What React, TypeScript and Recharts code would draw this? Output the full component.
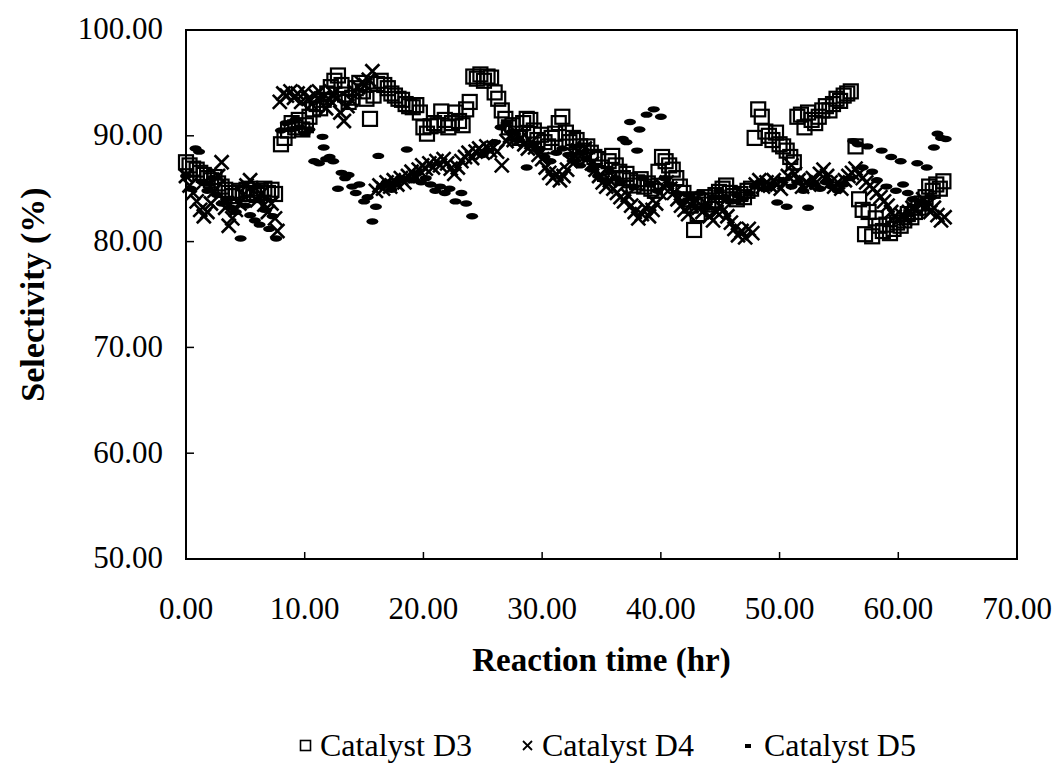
import { Label, Legend, ReferenceArea, Scatter, ScatterChart, XAxis, YAxis } from "recharts";

// [reaction time (hr), selectivity (%)]
const catalystD3: [number, number][] = [
  [0, 87.5], [0.3, 87.2], [0.6, 86.9], [0.9, 86.8], [1.2, 86.5], [1.5, 86.3], [1.8, 86.0], [2.1, 85.8],
  [2.4, 86.1], [2.7, 85.5], [3.0, 85.2], [3.3, 84.9], [3.6, 84.6], [3.9, 84.3], [4.2, 84.6], [4.5, 84.8],
  [4.8, 84.5], [5.1, 84.9], [5.4, 85.0], [5.7, 84.6], [6.0, 84.4], [6.3, 84.8], [6.6, 85.0], [6.9, 84.6],
  [7.2, 84.9], [7.5, 84.5],
  [8.0, 89.2], [8.3, 89.8], [8.6, 90.5], [8.9, 91.2], [9.2, 90.8], [9.5, 91.5], [9.8, 90.6], [10.1, 91.0],
  [10.4, 91.8], [10.7, 92.5], [11.0, 93.0], [11.3, 92.6], [11.6, 93.4], [11.9, 94.0], [12.2, 94.6], [12.5, 95.2],
  [12.8, 95.7], [13.1, 94.8], [13.4, 93.9], [13.7, 93.2], [14.0, 93.6], [14.3, 94.5], [14.6, 95.0], [14.9, 94.2],
  [15.2, 93.5], [15.5, 91.6], [15.8, 93.8], [16.1, 94.9], [16.4, 95.2], [16.7, 94.8], [17.0, 94.5], [17.3, 94.0],
  [17.6, 93.8], [17.9, 93.5], [18.2, 93.4], [18.5, 93.0], [18.8, 92.8], [19.1, 92.7], [19.4, 92.9], [19.7, 92.2],
  [20.0, 90.8], [20.3, 90.2], [20.6, 90.9], [20.9, 91.2], [21.2, 91.0], [21.5, 92.3], [21.8, 91.5], [22.1, 90.8],
  [22.4, 91.2], [22.7, 92.2], [23.0, 91.4], [23.3, 91.0], [23.6, 92.5], [23.9, 93.2], [24.2, 95.6], [24.5, 95.4],
  [24.8, 95.8], [25.1, 95.2], [25.4, 95.6], [25.7, 95.5], [26.0, 94.1], [26.3, 93.5], [26.6, 92.4], [26.9, 91.6],
  [27.2, 90.8], [27.5, 91.0], [27.8, 90.2], [28.1, 89.8], [28.4, 91.2], [28.7, 91.6], [29.0, 91.5], [29.3, 90.5],
  [29.6, 89.6], [29.9, 90.1], [30.2, 89.4], [30.5, 89.0], [30.8, 89.8], [31.1, 90.2], [31.4, 91.2], [31.7, 91.8],
  [32.0, 90.3], [32.3, 89.4], [32.6, 89.8], [32.9, 89.6], [33.2, 89.0], [33.5, 88.6], [33.8, 89.0], [34.1, 88.4],
  [34.4, 88.0], [34.7, 87.8], [35.0, 87.0], [35.3, 86.4], [35.6, 87.6], [35.9, 88.1], [36.2, 87.2], [36.5, 86.6],
  [36.8, 86.0], [37.1, 86.4], [37.4, 85.8], [37.7, 85.3], [38.0, 85.6], [38.3, 85.9], [38.6, 85.2], [38.9, 85.5],
  [39.2, 85.0], [39.5, 84.8], [39.8, 86.6], [40.1, 88.0], [40.4, 87.6], [40.7, 87.2], [41.0, 86.8], [41.3, 86.0],
  [41.6, 85.2], [41.9, 84.6], [42.2, 84.0], [42.5, 83.4], [42.8, 81.1], [43.1, 82.6], [43.4, 83.8], [43.7, 84.2],
  [44.0, 83.5], [44.3, 83.9], [44.6, 84.4], [44.9, 84.7], [45.2, 85.0], [45.5, 85.3], [45.8, 84.6], [46.1, 84.3],
  [46.4, 84.0], [46.7, 84.5], [47.0, 84.2], [47.3, 84.8], [47.6, 85.0], [47.9, 89.8], [48.2, 92.5], [48.5, 91.8],
  [48.8, 90.4], [49.1, 90.0], [49.4, 89.6], [49.7, 90.3], [50.0, 89.2], [50.3, 89.0], [50.6, 88.6], [50.9, 88.0],
  [51.2, 87.5], [51.5, 91.8], [51.8, 92.0], [52.1, 90.8], [52.4, 92.2], [52.7, 91.5], [53.0, 91.2], [53.3, 91.8],
  [53.6, 92.4], [53.9, 92.8], [54.2, 92.4], [54.5, 93.0], [54.8, 93.5], [55.1, 93.3], [55.4, 93.8], [55.7, 94.0],
  [56.0, 94.2], [56.4, 89.0], [56.7, 84.0], [57.0, 83.0], [57.2, 80.7], [57.5, 82.8], [57.8, 80.5], [58.1, 82.2],
  [58.4, 81.5], [58.7, 81.0], [59.0, 81.6], [59.3, 80.8], [59.6, 81.2], [59.9, 81.8], [60.2, 81.5], [60.5, 82.0],
  [60.8, 82.6], [61.1, 82.3], [61.4, 82.8], [61.7, 83.2], [62.0, 83.6], [62.3, 84.2], [62.6, 85.2], [62.9, 84.8],
  [63.2, 85.4], [63.5, 85.0], [63.8, 85.7],
];

const catalystD4: [number, number][] = [
  [0, 86.2], [0.3, 85.3], [0.6, 84.6], [0.9, 83.8], [1.2, 83.0], [1.5, 82.4], [1.8, 82.8], [2.1, 83.6],
  [2.4, 84.8], [2.7, 86.2], [3.0, 87.5], [3.3, 83.2], [3.6, 81.5], [3.9, 82.2], [4.2, 83.0], [4.5, 83.6],
  [4.8, 84.4], [5.1, 85.3], [5.4, 85.8], [5.7, 84.8], [6.0, 83.9], [6.3, 84.5], [6.6, 83.5], [6.9, 82.8],
  [7.2, 83.6], [7.5, 82.2], [7.7, 81.0],
  [7.9, 93.2], [8.2, 94.0], [8.5, 93.8], [8.8, 94.2], [9.1, 93.6], [9.4, 94.0], [9.7, 93.2], [10.0, 94.1],
  [10.3, 93.5], [10.6, 93.0], [10.9, 93.8], [11.2, 94.2], [11.5, 93.6], [11.8, 92.6], [12.1, 93.4], [12.4, 94.0],
  [12.7, 93.5], [13.0, 92.2], [13.3, 91.4], [13.6, 92.8], [13.9, 93.4], [14.2, 94.2], [14.5, 94.6], [14.8, 95.0],
  [15.1, 94.8], [15.4, 95.3], [15.7, 96.1],
  [16.0, 84.8], [16.3, 85.3], [16.6, 85.0], [16.9, 85.6], [17.2, 85.2], [17.5, 85.8], [17.8, 85.4], [18.1, 86.0],
  [18.4, 85.6], [18.7, 86.2], [19.0, 86.6], [19.3, 86.2], [19.6, 86.8], [19.9, 87.2], [20.2, 86.9], [20.5, 87.4],
  [20.8, 87.0], [21.1, 87.6], [21.4, 87.2], [21.7, 87.8], [22.0, 87.4], [22.3, 86.9], [22.6, 86.4], [22.9, 87.0],
  [23.2, 87.6], [23.5, 88.0], [23.8, 88.4], [24.1, 87.9], [24.4, 88.5], [24.7, 88.8], [25.0, 88.4], [25.3, 89.0],
  [25.6, 88.6], [25.9, 88.9], [26.2, 88.5], [26.6, 87.2], [27.0, 89.5], [27.3, 90.0], [27.6, 89.6], [27.9, 90.2],
  [28.2, 89.8], [28.5, 89.2], [28.8, 88.8], [29.1, 89.4], [29.4, 88.9], [29.7, 88.2], [30.0, 87.8], [30.3, 87.0],
  [30.6, 86.5], [30.9, 86.0], [31.2, 86.4], [31.5, 85.8], [31.8, 86.2], [32.1, 86.8], [32.4, 87.6], [32.7, 88.2],
  [33.0, 88.6], [33.3, 88.2], [33.6, 88.8], [33.9, 88.0], [34.2, 87.4], [34.5, 86.8], [34.8, 86.2], [35.1, 85.6],
  [35.4, 85.2], [35.7, 85.8], [36.0, 85.0], [36.3, 84.6], [36.6, 84.2], [36.9, 83.8], [37.2, 84.4], [37.5, 83.4],
  [37.8, 82.8], [38.1, 82.2], [38.4, 82.6], [38.7, 83.2], [39.0, 82.4], [39.3, 83.0], [39.6, 83.6], [39.9, 84.6],
  [40.2, 85.2], [40.5, 85.6], [40.8, 85.0], [41.1, 84.6], [41.4, 84.0], [41.7, 83.4], [42.0, 83.0], [42.3, 82.6],
  [42.6, 83.4], [42.9, 84.0], [43.2, 83.2], [43.5, 82.8], [43.8, 83.6], [44.1, 82.4], [44.4, 82.0], [44.7, 82.8],
  [45.0, 83.4], [45.3, 83.0], [45.6, 82.4], [45.9, 81.8], [46.2, 81.2], [46.5, 80.6], [46.8, 81.0], [47.1, 80.4],
  [47.4, 81.2], [47.7, 80.8], [48.0, 85.4], [48.3, 85.8], [48.6, 85.2], [48.9, 85.6], [49.2, 85.3], [49.5, 85.8],
  [49.8, 85.4], [50.1, 85.0], [50.4, 85.6], [50.7, 86.2], [51.0, 87.2], [51.3, 86.4], [51.6, 85.8], [51.9, 85.2],
  [52.2, 85.6], [52.5, 85.4], [52.8, 86.0], [53.1, 85.6], [53.4, 86.4], [53.7, 86.8], [54.0, 86.2], [54.3, 85.6],
  [54.6, 85.2], [54.9, 85.6], [55.2, 85.0], [55.5, 85.8], [55.8, 86.2], [56.1, 86.5], [56.4, 86.9], [56.7, 86.4],
  [57.0, 86.0], [57.3, 85.6], [57.6, 85.3], [57.9, 85.0], [58.2, 84.6], [58.5, 84.2], [58.8, 83.8], [59.1, 83.4],
  [59.4, 82.8], [59.7, 82.4], [60.0, 82.0], [60.3, 82.5], [60.6, 82.2], [60.9, 82.8], [61.2, 83.2], [61.5, 83.0],
  [61.8, 83.6], [62.1, 84.0], [62.4, 83.4], [62.7, 82.8], [63.0, 83.2], [63.3, 82.5], [63.6, 82.0], [63.9, 82.3],
];

const catalystD5: [number, number][] = [
  [0, 86.2], [0.4, 85.0], [0.8, 88.8], [1.1, 88.5], [1.4, 85.6], [1.8, 84.8], [2.2, 86.0], [2.6, 84.4],
  [3.0, 83.6], [3.4, 84.0], [3.8, 83.2], [4.2, 82.8], [4.6, 80.3], [5.0, 83.4], [5.4, 82.5], [5.8, 82.0],
  [6.2, 81.6], [6.6, 83.0], [7.0, 81.2], [7.3, 82.4], [7.6, 80.3],
  [8.0, 90.5], [8.4, 91.2], [8.8, 90.6], [9.2, 91.5], [9.6, 90.8], [10.0, 90.2], [10.4, 90.6], [10.8, 87.6],
  [11.2, 87.4], [11.5, 89.9], [11.6, 88.9], [11.8, 87.8], [12.1, 88.0], [12.4, 87.6], [12.8, 85.0], [13.1, 86.5],
  [13.4, 86.0], [13.7, 86.3], [14.0, 85.2], [14.3, 84.6], [14.6, 85.4], [15.0, 83.8], [15.3, 84.2], [15.7, 81.9],
  [16.0, 83.3], [16.2, 88.1],
  [16.5, 85.2], [16.9, 85.6], [17.3, 84.9], [17.7, 85.4], [18.1, 86.0], [18.6, 88.7], [19.0, 85.8], [19.4, 86.4],
  [19.8, 85.6], [20.2, 86.0], [20.6, 85.4], [21.0, 84.8], [21.4, 85.2], [21.8, 84.6], [22.2, 85.0], [22.7, 83.8],
  [23.2, 84.6], [23.6, 83.6], [24.1, 82.4],
  [25.0, 88.2], [25.5, 88.6], [26.0, 89.4], [26.5, 90.8], [27.0, 91.2], [27.5, 90.4], [28.0, 89.6], [28.7, 87.0],
  [29.2, 89.2], [29.7, 88.6], [30.2, 88.0], [30.7, 87.6], [31.2, 88.4], [31.7, 88.8], [32.2, 88.2], [32.7, 87.6],
  [33.2, 87.2], [33.7, 87.8], [34.2, 86.8], [34.7, 86.2], [35.2, 85.8], [35.7, 86.6], [36.2, 86.0], [36.6, 85.6],
  [36.8, 89.7], [37.1, 89.4], [37.4, 91.3], [37.7, 85.2], [38.0, 88.6], [38.2, 90.6], [38.5, 86.0], [38.8, 92.0],
  [39.1, 85.4], [39.4, 92.5], [39.7, 84.8], [40.0, 91.8], [40.3, 86.0], [40.8, 85.4], [41.3, 84.6], [41.8, 83.7],
  [42.3, 84.4], [42.8, 84.0], [43.3, 84.6], [43.9, 83.2], [44.4, 84.2], [44.9, 84.8], [45.4, 84.2], [45.9, 83.8],
  [46.4, 84.4], [46.9, 84.0], [47.4, 84.6], [47.9, 85.2], [48.4, 85.6], [48.9, 85.0], [49.4, 85.4], [49.8, 83.7],
  [50.2, 85.8], [50.6, 83.3], [51.0, 85.2], [51.5, 85.6], [52.0, 84.8], [52.4, 83.2], [52.9, 85.4], [53.4, 85.0],
  [53.9, 85.6], [54.4, 85.2], [54.9, 84.8], [55.4, 85.4], [55.9, 86.0], [56.2, 89.5], [56.6, 89.2], [57.0, 87.0],
  [57.4, 89.0], [57.8, 86.6], [58.2, 85.8], [58.6, 88.6], [59.0, 85.2], [59.4, 88.0], [59.8, 84.8], [60.2, 87.6],
  [60.4, 85.4], [60.8, 84.6], [61.2, 84.0], [61.6, 87.4], [62.0, 83.8], [62.4, 87.0], [62.8, 84.2], [63.0, 88.9],
  [63.3, 90.2], [63.6, 89.8], [64.0, 89.7],
];

const timeTicks = [0, 10, 20, 30, 40, 50, 60, 70];
const selectivityTicks = [50, 60, 70, 80, 90, 100];
const seriesNames = ["Catalyst D3", "Catalyst D4", "Catalyst D5"];

const FONT = "Liberation Serif";

const toPoints = (rows: [number, number][]) => rows.map(([hr, sel]) => ({ hr, sel }));

const OpenSquare = ({ cx, cy }: any) => (
  <rect x={cx - 7} y={cy - 7} width={14} height={14} fill="none" stroke="#000" strokeWidth={2.2} />
);

const Cross = ({ cx, cy }: any) => (
  <g stroke="#000" strokeWidth={2.6}>
    <line x1={cx - 7} y1={cy - 7} x2={cx + 7} y2={cy + 7} />
    <line x1={cx - 7} y1={cy + 7} x2={cx + 7} y2={cy - 7} />
  </g>
);

const Dash = ({ cx, cy }: any) => <ellipse cx={cx} cy={cy} rx={6} ry={3.2} fill="#000" />;

const XTick = ({ x, y, payload }: any) => (
  <g>
    <line x1={x} x2={x} y1={y - 38} y2={y - 45} stroke="#000" strokeWidth={1.5} />
    <text x={x} y={y} dy="0.7em" textAnchor="middle" style={{ fontFamily: FONT, fontSize: 31 }} fill="#000">
      {Number(payload.value).toFixed(2)}
    </text>
  </g>
);

const YTick = ({ x, y, payload }: any) => (
  <g>
    <line x1={x + 23} x2={x + 31} y1={y} y2={y} stroke="#000" strokeWidth={1.5} />
    <text x={x} y={y} dy="0.3em" textAnchor="end" style={{ fontFamily: FONT, fontSize: 31 }} fill="#000">
      {Number(payload.value).toFixed(2)}
    </text>
  </g>
);

const legendIcons = [
  <svg width={16} height={16} key="d3">
    <rect x={2.5} y={3.5} width={10} height={10} fill="none" stroke="#000" strokeWidth={1.6} />
  </svg>,
  <svg width={16} height={16} key="d4">
    <g stroke="#000" strokeWidth={1.8}>
      <line x1={3} y1={4} x2={12} y2={13} />
      <line x1={3} y1={13} x2={12} y2={4} />
    </g>
  </svg>,
  <svg width={16} height={16} key="d5">
    <rect x={3} y={7} width={6} height={4} fill="#000" />
  </svg>,
];

const CatalystLegend = () => (
  <div style={{ display: "flex", alignItems: "center", height: 40, paddingLeft: 298, fontFamily: FONT, fontSize: 32, color: "#000" }}>
    {seriesNames.map((name, i) => (
      <div key={name} style={{ display: "flex", alignItems: "center", marginRight: 48 }}>
        {legendIcons[i]}
        <span style={{ marginLeft: 6, lineHeight: "40px" }}>{name}</span>
      </div>
    ))}
  </div>
);

export default function App() {
  return (
    <div style={{ position: "absolute", left: 0, top: 0, width: 1058, height: 764, background: "#fff" }}>
      <ScatterChart width={1058} height={764} margin={{ top: 30, right: 41, left: 36, bottom: 50 }}>
        <XAxis
          type="number"
          dataKey="hr"
          domain={[0, 70]}
          ticks={timeTicks}
          interval={0}
          height={115}
          tickSize={0}
          tickMargin={38}
          tickLine={false}
          axisLine={{ stroke: "#000", strokeWidth: 2 }}
          tick={<XTick />}
        >
          <Label
            value="Reaction time (hr)"
            position="insideBottom"
            offset={3}
            style={{ fontFamily: FONT, fontSize: 33, fontWeight: 700, fill: "#000" }}
          />
        </XAxis>
        <YAxis
          type="number"
          dataKey="sel"
          domain={[50, 100]}
          ticks={selectivityTicks}
          interval={0}
          width={150}
          tickSize={0}
          tickMargin={23}
          tickLine={false}
          axisLine={{ stroke: "#000", strokeWidth: 2 }}
          tick={<YTick />}
        >
          <Label
            value="Selectivity (%)"
            angle={-90}
            position="insideLeft"
            offset={-4}
            style={{ fontFamily: FONT, fontSize: 34, fontWeight: 700, fill: "#000", textAnchor: "middle" }}
          />
        </YAxis>
        <ReferenceArea x1={0} x2={70} y1={50} y2={100} fill="none" stroke="#000" strokeWidth={2} />
        <Legend
          verticalAlign="bottom"
          content={<CatalystLegend />}
          wrapperStyle={{ left: 0, top: 725, width: 1058, height: 40 }}
        />
        <Scatter name={seriesNames[2]} data={toPoints(catalystD5)} shape={<Dash />} isAnimationActive={false} />
        <Scatter name={seriesNames[1]} data={toPoints(catalystD4)} shape={<Cross />} isAnimationActive={false} />
        <Scatter name={seriesNames[0]} data={toPoints(catalystD3)} shape={<OpenSquare />} isAnimationActive={false} />
      </ScatterChart>
    </div>
  );
}
